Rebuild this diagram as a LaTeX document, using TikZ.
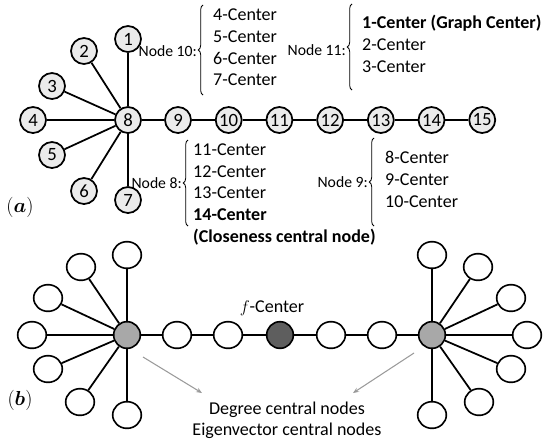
\documentclass[tikz,border=0pt]{standalone}
\usepackage{fontspec}
\setmainfont{Carlito}
\usepackage{amsmath}
\usepackage{bm}
\usetikzlibrary{arrows.meta,decorations.pathreplacing,shapes.geometric}
\definecolor{VF}{HTML}{EBEBEB}
\definecolor{HG}{HTML}{A8A8A8}
\definecolor{FD}{HTML}{5E5E5E}
\definecolor{AG}{HTML}{9A9A9A}

\tikzset{
  vtx/.style={circle, draw, line width=1.5pt, fill=VF, minimum size=0.78cm,
              inner sep=0pt, font=\fontsize{16}{16}\selectfont},
  leaf/.style={ellipse, draw, line width=1.4pt, fill=white,
               minimum width=0.86cm, minimum height=0.8cm, inner sep=0pt},
  hub/.style={circle, draw, line width=1.4pt, fill=HG, minimum size=0.8cm, inner sep=0pt},
  fnode/.style={hub, fill=FD},
  edge/.style={line width=1.5pt},
  brc/.style={decorate, decoration={brace, amplitude=4pt}, line width=0.7pt},
  nlab/.style={anchor=east, inner sep=0pt, font=\fontsize{13.4}{13.4}\selectfont},
  clab/.style={anchor=west, inner sep=0pt, font=\fontsize{15.4}{15.4}\selectfont},
  txt/.style={inner sep=0pt, font=\fontsize{15.4}{15.4}\selectfont},
  pointer/.style={AG, line width=0.9pt, -{Stealth[length=5pt,width=4pt]}}
}

\begin{document}
\begin{tikzpicture}[x=0.03cm, y=-0.03cm]
  \useasboundingbox (0,0) rectangle (543,441);

  %% (a) star with a tail
  \node[vtx] (v8) at (128,120) {8};
  \foreach \n/\x/\y in {1/128/39, 2/84/51, 3/52/86, 4/33/120,
                        5/52/155, 6/84/191, 7/128/200}{
    \node[vtx] (v\n) at (\x,\y) {\n};
    \draw[edge] (v8) -- (v\n);
  }
  \foreach \k in {9,...,15}{
    \pgfmathsetmacro{\xx}{178+(\k-9)*50.7}
    \node[vtx] (v\k) at (\xx,120) {\k};
  }
  \draw[edge] (v8) -- (v9);
  \foreach \k [evaluate=\k as \kk using int(\k+1)] in {9,...,14}{
    \draw[edge] (v\k) -- (v\kk);
  }

  %% centre lists
  \node[nlab] (n10) at (197,51) {Node 10:};
  \draw[brc] (203,95) -- (203,5);
  \foreach \t/\y in {4/15, 5/37, 6/58, 7/80}{
    \node[clab] (c10-\t) at (213,\y) {\t-Center};
  }

  \node[nlab] (n11) at (346,50) {Node 11:};
  \draw[brc] (352,90) -- (352,4);
  \node[clab] (c11-1) at (362,23) {\textbf{1-Center (Graph Center)}};
  \node[clab] (c11-2) at (362,45) {2-Center};
  \node[clab] (c11-3) at (362,67) {3-Center};

  \node[nlab] (n8) at (182,183) {Node 8:};
  \draw[brc] (188,226) -- (188,140);
  \foreach \t/\y in {11/150, 12/172, 13/193}{
    \node[clab] (c8-\t) at (193,\y) {\t-Center};
  }
  \node[clab] (c8-14) at (193,215) {\textbf{14-Center}};
  \node[clab] (c8-cl) at (193,237) {\textbf{(Closeness central node)}};

  \node[nlab] (n9) at (368,182) {Node 9:};
  \draw[brc] (374,226) -- (374,138);
  \foreach \t/\y in {8/157, 9/180, 10/202}{
    \node[clab] (c9-\t) at (385,\y) {\t-Center};
  }

  \node[inner sep=0pt, font=\fontsize{18}{18}\selectfont] (la) at (20,207) {$(\bm{a})$};

  %% (b) two stars joined by a path
  \node[hub] (hL) at (127,335) {};
  \node[hub] (hR) at (432,335) {};
  \foreach \dx/\dy [count=\i] in {0/-80, -46/-68, -79/-37, -95/0,
                                  -79/34, -47/67, 0/80}{
    \node[leaf] (lL\i) at (127+\dx,335+\dy) {};
    \node[leaf] (lR\i) at (432-\dx,335+\dy) {};
    \draw[edge] (hL) -- (lL\i);
    \draw[edge] (hR) -- (lR\i);
  }
  \node[leaf] (p1) at (177,335) {};
  \node[leaf] (p2) at (228,335) {};
  \node[fnode] (fc) at (280,335) {};
  \node[leaf] (p3) at (331,335) {};
  \node[leaf] (p4) at (382,335) {};
  \draw[edge] (hL) -- (p1) -- (p2) -- (fc) -- (p3) -- (p4) -- (hR);

  \node[txt] (flab) at (272,308) {$f$-Center};

  \coordinate (aL) at (143,357);
  \coordinate (aR) at (414,353);
  \node[txt] (deg) at (287,410) {Degree central nodes};
  \node[txt] (eig) at (287,431) {Eigenvector central nodes};
  \draw[pointer] (aL) -- (202,393) coordinate (aLe);
  \draw[pointer] (aR) -- (353,393) coordinate (aRe);

  \node[inner sep=0pt, font=\fontsize{18}{18}\selectfont] (lb) at (20,400) {$(\bm{b})$};
\end{tikzpicture}
\end{document}
